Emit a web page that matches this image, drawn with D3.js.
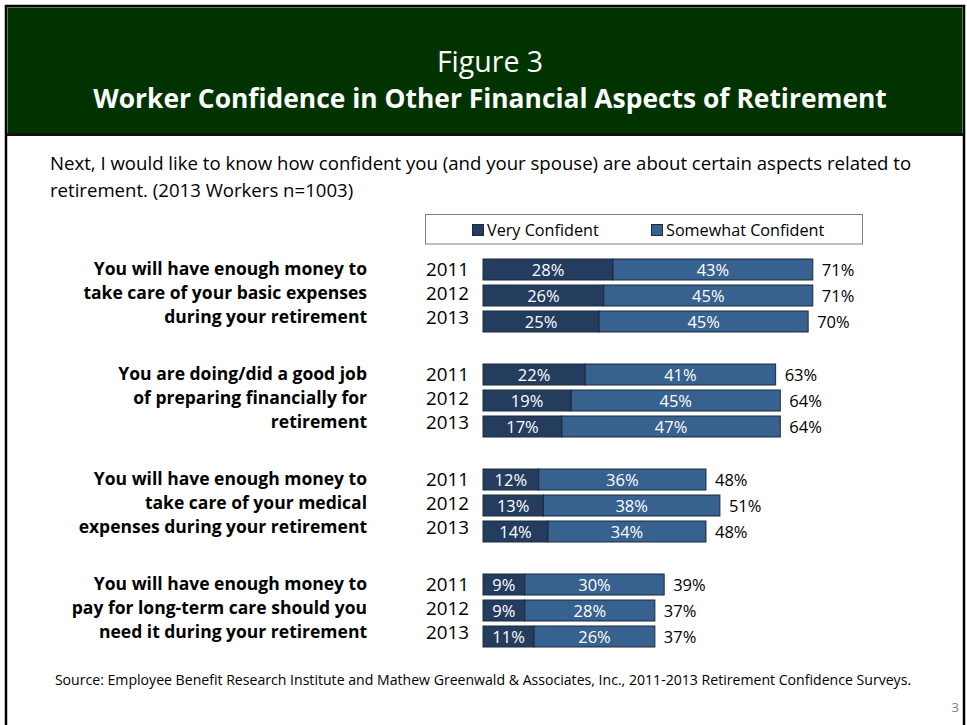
<!DOCTYPE html>
<html>
<head>
<meta charset="utf-8">
<script src="https://cdn.jsdelivr.net/npm/d3@7/dist/d3.min.js"></script>
<style>
  html, body { margin: 0; padding: 0; background: #ffffff; }
  svg { display: block; font-family: "Open Sans", Lato, sans-serif; }
</style>
</head>
<body>
<svg id="chart" width="967" height="725"></svg>
<script>
// Survey results: share of workers "very" and "somewhat" confident, by aspect and year
const years = ["2011", "2012", "2013"];
const categories = [
  ["You will have enough money to", "take care of your basic expenses", "during your retirement"],
  ["You are doing/did a good job", "of preparing financially for", "retirement"],
  ["You will have enough money to", "take care of your medical", "expenses during your retirement"],
  ["You will have enough money to", "pay for long-term care should you", "need it during your retirement"]
];
const veryConfident     = [[28, 26, 25], [22, 19, 17], [12, 13, 14], [9, 9, 11]];
const somewhatConfident = [[43, 45, 45], [41, 45, 47], [36, 38, 34], [30, 28, 26]];
const seriesNames = ["Very Confident", "Somewhat Confident"];

const colors = { very: "#243d5f", somewhat: "#37618f", stroke: "#1b2a3d" };

const svg = d3.select("#chart");

// Slide frame and header band
svg.append("rect").attr("x", 6).attr("y", 6).attr("width", 958).attr("height", 740)
  .attr("fill", "#fff").attr("stroke", "#000").attr("stroke-width", 2.5);
svg.append("rect").attr("x", 7.5).attr("y", 7.5).attr("width", 955).attr("height", 126)
  .attr("fill", "#003300");
svg.append("line").attr("x1", 7).attr("x2", 964).attr("y1", 134.5).attr("y2", 134.5)
  .attr("stroke", "#111").attr("stroke-width", 3);

svg.append("text").attr("x", 490).attr("y", 72).attr("text-anchor", "middle")
  .attr("fill", "#fff").attr("font-size", 28.5).text("Figure 3");
svg.append("text").attr("x", 490).attr("y", 108).attr("text-anchor", "middle")
  .attr("fill", "#fff").attr("font-size", 26.4).attr("font-weight", "bold")
  .text("Worker Confidence in Other Financial Aspects of Retirement");

// Question wording
const question = [
  "Next, I would like to know how confident you (and your spouse) are about certain aspects related to",
  "retirement. (2013 Workers n=1003)"
];
svg.append("g").selectAll("text").data(question).join("text")
  .attr("x", 50).attr("y", (d, i) => 170 + i * 27)
  .attr("font-size", 18.6).attr("fill", "#000").text(d => d);

// Scales
const x = d3.scaleLinear().domain([0, 100]).range([483, 483 + 464.5]);
const groupY = d3.scaleBand().domain(d3.range(categories.length)).range([259, 259 + 105 * 4]);
const rowY = d3.scaleBand().domain(years).range([0, 73]).paddingInner(5 / 26).paddingOuter(0);
const barH = rowY.bandwidth();
const lineStep = 24;

// Legend
const legend = svg.append("g");
legend.append("rect").attr("x", 425.5).attr("y", 214.5).attr("width", 437).attr("height", 29.5)
  .attr("fill", "#fff").attr("stroke", "#7f7f7f").attr("stroke-width", 1);
const legendX = [472, 651];
seriesNames.forEach((name, i) => {
  const g = legend.append("g").attr("transform", `translate(${legendX[i]},0)`);
  g.append("rect").attr("x", 0.5).attr("y", 224.5).attr("width", 11).attr("height", 11)
    .attr("fill", i === 0 ? colors.very : colors.somewhat).attr("stroke", colors.stroke);
  g.append("text").attr("x", 15).attr("y", 236).attr("font-size", 16.2).attr("fill", "#000").text(name);
});

// Groups
const groups = svg.append("g").selectAll("g.grp").data(categories).join("g")
  .attr("class", "grp")
  .attr("transform", (d, i) => `translate(0,${groupY(i)})`);

groups.each(function(lines, gi) {
  const g = d3.select(this);
  // category label, right aligned, one line per year row
  g.append("g").selectAll("text").data(lines).join("text")
    .attr("x", 367).attr("y", (d, i) => 16 + i * lineStep)
    .attr("text-anchor", "end").attr("font-size", 17.5).attr("font-weight", "bold")
    .attr("fill", "#000").text(d => d);

  years.forEach((yr, ri) => {
    const v = veryConfident[gi][ri];
    const s = somewhatConfident[gi][ri];
    const y0 = rowY(yr);
    const cy = y0 + barH / 2;
    g.append("text").attr("x", 469).attr("y", 16.5 + ri * lineStep).attr("text-anchor", "end")
      .attr("font-size", 18.8).attr("fill", "#000").text(yr);
    g.append("rect").attr("x", x(0)).attr("y", y0).attr("width", x(v) - x(0)).attr("height", barH)
      .attr("fill", colors.very).attr("stroke", colors.stroke).attr("stroke-width", 1);
    g.append("rect").attr("x", x(v)).attr("y", y0).attr("width", x(v + s) - x(v)).attr("height", barH)
      .attr("fill", colors.somewhat).attr("stroke", colors.stroke).attr("stroke-width", 1);
    g.append("text").attr("x", (x(0) + x(v)) / 2).attr("y", cy + 6).attr("text-anchor", "middle")
      .attr("font-size", 16.5).attr("fill", "#fff").text(v + "%");
    g.append("text").attr("x", (x(v) + x(v + s)) / 2).attr("y", cy + 6).attr("text-anchor", "middle")
      .attr("font-size", 16.5).attr("fill", "#fff").text(s + "%");
    g.append("text").attr("x", x(v + s) + 9).attr("y", cy + 6.5)
      .attr("font-size", 16.5).attr("fill", "#000").text((v + s) + "%");
  });
});

// Source and page number
svg.append("text").attr("x", 483).attr("y", 685).attr("text-anchor", "middle")
  .attr("font-size", 14.1).attr("fill", "#000")
  .text("Source:  Employee Benefit Research Institute and Mathew Greenwald & Associates, Inc., 2011-2013  Retirement Confidence Surveys.");
svg.append("text").attr("x", 959).attr("y", 712).attr("text-anchor", "end")
  .attr("font-size", 13).attr("fill", "#7f7f7f").text("3");
</script>
</body>
</html>
